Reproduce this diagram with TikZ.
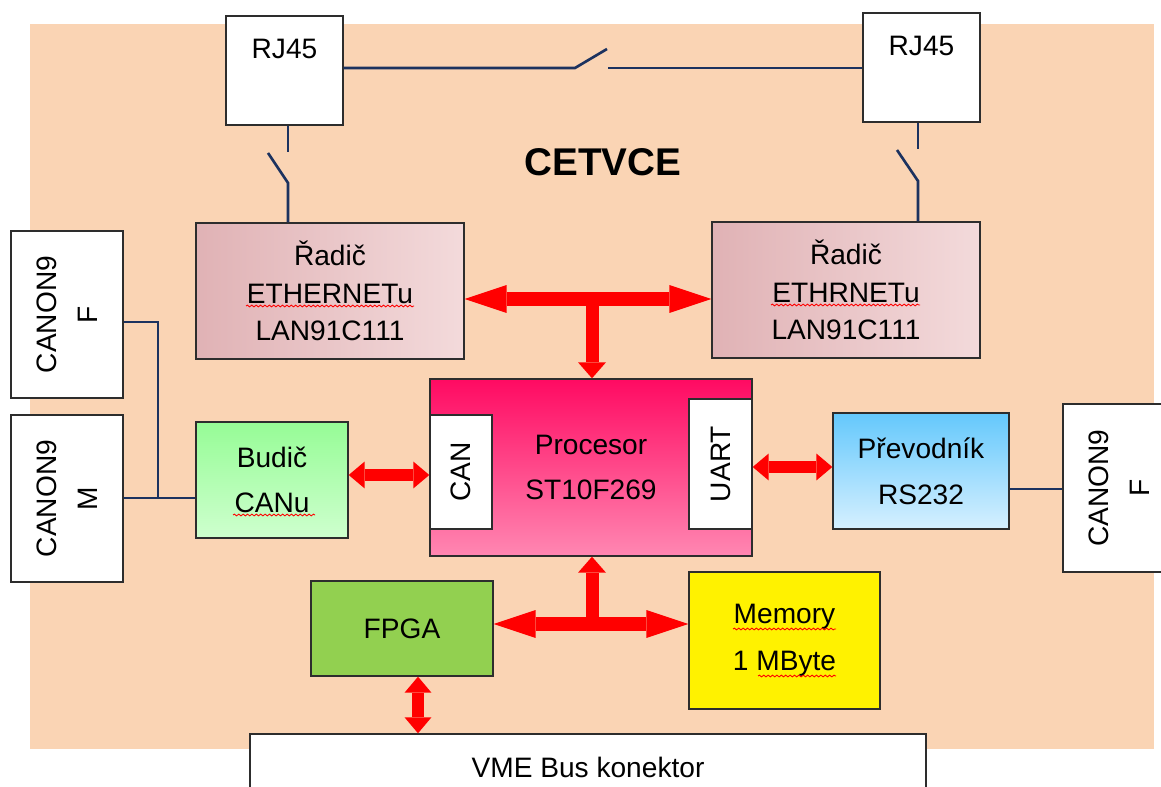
\documentclass[tikz,border=0pt]{standalone}
\usepackage{fontspec}
\setmainfont{Liberation Sans}
\usetikzlibrary{arrows.meta,decorations.pathmorphing}

\definecolor{peach}{RGB}{250,212,180}
\definecolor{wirec}{RGB}{28,50,95}
\definecolor{edgec}{RGB}{45,45,45}
\definecolor{ethA}{RGB}{224,178,181}
\definecolor{ethB}{RGB}{243,218,219}
\definecolor{budA}{RGB}{150,252,150}
\definecolor{budB}{RGB}{206,255,206}
\definecolor{cpuA}{RGB}{255,10,98}
\definecolor{cpuB}{RGB}{255,135,178}
\definecolor{rsA}{RGB}{100,200,252}
\definecolor{rsB}{RGB}{214,240,255}
\definecolor{fpgac}{RGB}{146,208,80}

\begin{document}
\begin{tikzpicture}[x=0.02cm, y=-0.02cm,
  box/.style={rectangle, draw=edgec, line width=0.8pt, inner sep=0pt,
    align=center, font=\fontsize{16}{26}\selectfont},
  jack/.style={box, fill=white},
  ethbox/.style={box, left color=ethA, right color=ethB,
    font=\fontsize{16}{21.3}\selectfont},
  lbl/.style={anchor=north, inner sep=0pt, yshift=-0.48cm,
    font=\fontsize{16}{26}\selectfont},
  vtxt/.style={rotate=90, align=center, inner sep=0pt,
    font=\fontsize{16}{23}\selectfont},
  wire/.style={draw=wirec, line width=1.5pt},
  busL/.style={draw=red, line width=0.27cm,
    {Triangle[length=0.84cm,width=0.56cm,line width=0pt]}-{Triangle[length=0.84cm,width=0.56cm,line width=0pt]}},
  busS/.style={draw=red, line width=0.24cm,
    {Triangle[length=0.32cm,width=0.54cm,line width=0pt]}-{Triangle[length=0.32cm,width=0.54cm,line width=0pt]}},
  busT/.style={draw=red, line width=0.26cm,
    -{Triangle[length=0.32cm,width=0.56cm,line width=0pt]}},
  wavy/.style={draw=red, line width=0.5pt, decorate,
    decoration={snake, amplitude=0.5pt, segment length=2.5pt}}
]
  \useasboundingbox (0,0) rectangle (1161,787);
  \fill[peach] (30,24) rectangle (1154,749);

  \node[jack, minimum width=2.34cm, minimum height=2.18cm,
    label={[lbl]north:RJ45}] (rjL) at (284.5,70.5) {};
  \node[jack, minimum width=2.34cm, minimum height=2.18cm,
    label={[lbl]north:RJ45}] (rjR) at (921.5,67.5) {};
  \node[font=\bfseries\fontsize{22}{26}\selectfont] (title) at (603,162) {CETVCE};

  \node[ethbox, minimum width=5.36cm, minimum height=2.72cm] (ethL) at (330,291)
    {Řadič\\ETHERNETu\\LAN91C111};
  \node[ethbox, minimum width=5.36cm, minimum height=2.72cm] (ethR) at (846,290)
    {Řadič\\ETHRNETu\\LAN91C111};

  \node[jack, minimum width=2.24cm, minimum height=3.34cm] (canF) at (67,314.5) {};
  \node[vtxt] (canFt) at (canF) {CANON9\\F};
  \node[jack, minimum width=2.24cm, minimum height=3.34cm] (canM) at (67,498.5) {};
  \node[vtxt] (canMt) at (canM) {CANON9\\M};
  \node[jack, minimum width=2.24cm, minimum height=3.36cm] (canR) at (1119,488) {};
  \node[vtxt] (canRt) at (canR) {CANON9\\F};

  \node[box, top color=budA, bottom color=budB, minimum width=3.04cm,
    minimum height=2.32cm] (bud) at (272,480) {Budič\\CANu};
  \node[box, top color=cpuA, bottom color=cpuB, minimum width=6.44cm,
    minimum height=3.54cm, font=\fontsize{16}{25.5}\selectfont] (cpu) at (591,467.5)
    {Procesor\\ST10F269};
  \node[jack, minimum width=1.24cm, minimum height=2.28cm] (canI) at (461,472) {};
  \node[vtxt] (canIt) at (canI) {CAN};
  \node[jack, minimum width=1.26cm, minimum height=2.6cm] (uart) at (720.5,464) {};
  \node[vtxt] (uartt) at (uart) {UART};
  \node[box, top color=rsA, bottom color=rsB, minimum width=3.52cm,
    minimum height=2.32cm] (rs) at (921,471) {Převodník\\RS232};

  \node[box, fill=fpgac, minimum width=3.64cm, minimum height=1.9cm] (fpga) at (402,628.5) {FPGA};
  \node[box, fill=yellow, minimum width=3.82cm, minimum height=2.74cm,
    font=\fontsize{16}{26.6}\selectfont] (mem) at (784.5,640.5) {Memory\\1 MByte};
  \node[jack, minimum width=13.52cm, minimum height=1.32cm] (vme) at (588,767) {VME Bus konektor};

  \coordinate (st1) at (575,68);
  \coordinate (st2) at (607,49);
  \coordinate (st3) at (608,68);
  \draw[wire] (rjL.east |- st1) -- (st1) -- (st2);
  \draw[wire] (st3) -- (st3 -| rjR.west);

  \coordinate (sa1) at (288,152);
  \coordinate (sc1) at (268,153);
  \coordinate (sb1) at (288,183);
  \draw[wire] (sa1 |- rjL.south) -- (sa1);
  \draw[wire] (sc1) -- (sb1) -- (sb1 |- ethL.north);
  \coordinate (sa2) at (918,149);
  \coordinate (sc2) at (897,150);
  \coordinate (sb2) at (918,181);
  \draw[wire] (sa2 |- rjR.south) -- (sa2);
  \draw[wire] (sc2) -- (sb2) -- (sb2 |- ethR.north);

  \coordinate (jn) at (158,498);
  \draw[wire] ([yshift=-0.15cm]canF.east) -| (jn);
  \draw[wire] (canM.east |- jn) -- (jn -| bud.west);
  \draw[wire] ([yshift=-0.36cm]rs.east) -- ([yshift=-0.36cm]rs.east -| canR.west);

  \coordinate (eb) at (592,299);
  \draw[busL] (eb -| ethL.east) -- (eb -| ethR.west);
  \draw[busT] (eb) -- (eb |- cpu.north);
  \draw[busS] ([yshift=0.1cm]bud.east) -- ([yshift=0.1cm]bud.east -| canI.west);
  \draw[busS] ([yshift=-0.06cm]uart.east) -- ([yshift=-0.06cm]uart.east -| rs.west);
  \coordinate (mb) at (592,624);
  \draw[busL] (mb -| fpga.east) -- (mb -| mem.west);
  \draw[busT] (mb) -- (mb |- cpu.south);
  \draw[busS] ([xshift=0.32cm]fpga.south) -- ([xshift=0.32cm]fpga.south |- vme.north);

  \draw[wavy] (246,306) -- (414,306);
  \draw[wavy] (771,305) -- (920,305);
  \draw[wavy] (233,515) -- (315,515);
  \draw[wavy] (733,629) -- (836,629);
  \draw[wavy] (758,676) -- (836,676);
\end{tikzpicture}
\end{document}
